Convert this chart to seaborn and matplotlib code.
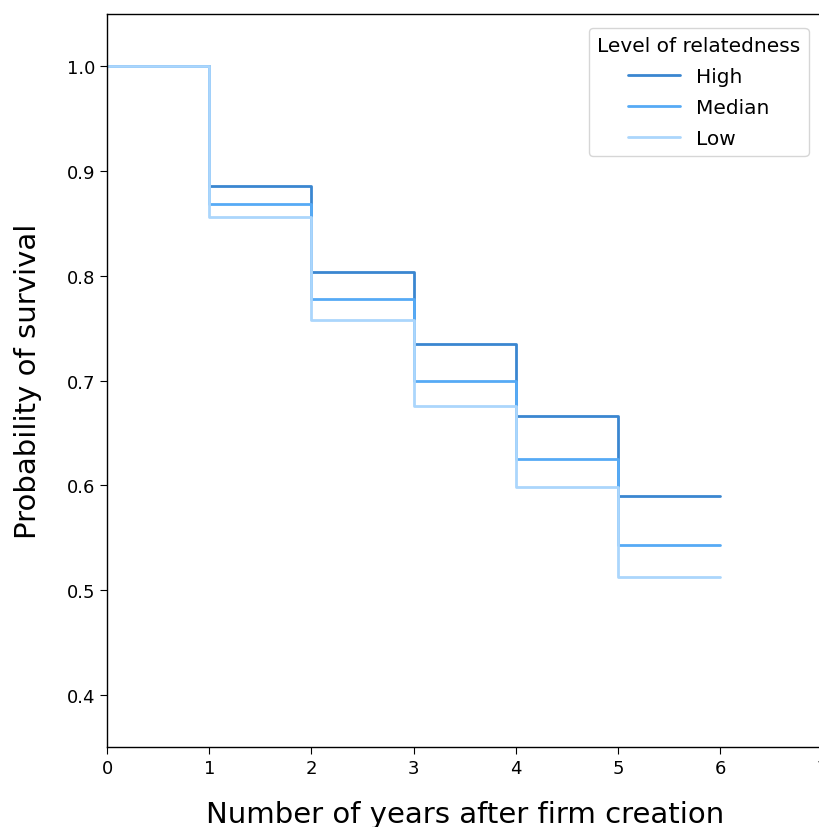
import pandas as pd
import matplotlib
matplotlib.use("Agg")
import matplotlib.pyplot as plt
import seaborn as sns

years = [0, 1, 2, 3, 4, 5, 6]
high = [1.0, 0.886, 0.804, 0.735, 0.666, 0.590, 0.590]
median = [1.0, 0.869, 0.778, 0.700, 0.625, 0.543, 0.543]
low = [1.0, 0.856, 0.758, 0.676, 0.598, 0.512, 0.512]
levels = ["High", "Median", "Low"]
colors = ["#3a86d0", "#56aaf5", "#abd6fc"]

df = pd.concat([
    pd.DataFrame({"year": years, "survival": vals, "level": lvl})
    for lvl, vals in zip(levels, [high, median, low])
])

sns.set_style("white")
plt.rcParams['font.family'] = ['DejaVu Sans']
plt.rcParams['text.color'] = 'black'
plt.rcParams['axes.labelcolor'] = 'black'
plt.rcParams['xtick.color'] = 'black'
plt.rcParams['ytick.color'] = 'black'

fig = plt.figure(figsize=(8.2, 8.28), dpi=100)
ax = fig.add_axes([0.1305, 0.0966, 0.8727, 0.8853])

sns.lineplot(x="year", y="survival", hue="level", hue_order=levels,
             palette=colors, data=df, ax=ax, drawstyle="steps-post",
             linewidth=2)

ax.legend(title="Level of relatedness", loc="upper right", fontsize=14.5,
          title_fontsize=14.5, frameon=True, borderaxespad=0.7,
          handlelength=2.6, labelspacing=0.6)

ax.set_xlim(0, 7)
ax.set_ylim(0.35, 1.05)
ax.set_yticks([0.4, 0.5, 0.6, 0.7, 0.8, 0.9, 1.0])
ax.set_xticks(range(8))
ax.tick_params(labelsize=13, bottom=True, left=True, length=5)
ax.set_xlabel("Number of years after firm creation", fontsize=21, labelpad=17)
ax.set_ylabel("Probability of survival", fontsize=21, labelpad=18)
for s in ax.spines.values():
    s.set_color("black")
    s.set_linewidth(1)

plt.savefig("out.png", dpi=100)
